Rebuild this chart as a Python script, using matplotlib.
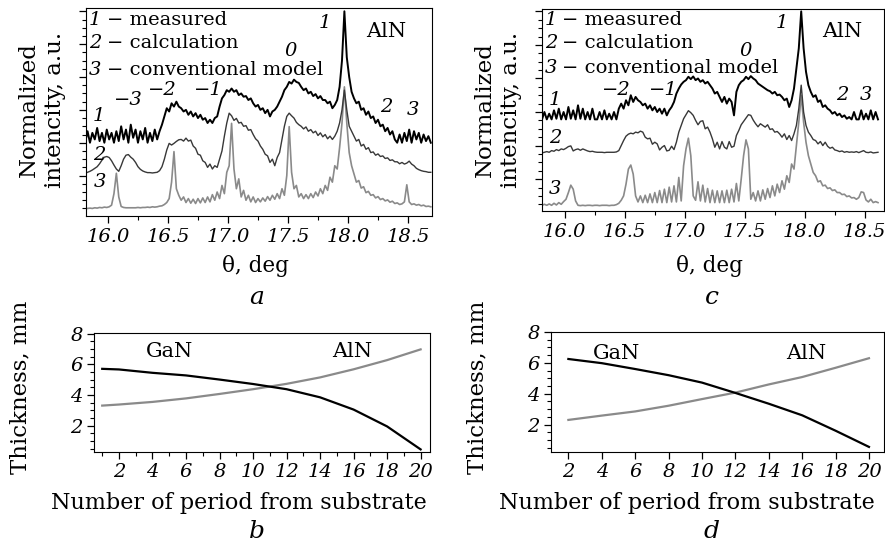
import numpy as np
import matplotlib
matplotlib.use("Agg")
import matplotlib.pyplot as plt
from matplotlib.ticker import MultipleLocator

plt.rcParams['font.family'] = 'DejaVu Serif'
plt.rcParams['font.size'] = 13

# XRD curves, theta grid starts at 15.81 deg with 0.02 deg step
theta_start = 15.81
theta_step = 0.02

# panel a: 1 - measured, 2 - calculation, 3 - conventional model
a_meas = [
    2.0, 2.35, 2.0, 2.3, 2.1, 2.45, 2.05, 2.3, 2.0, 2.4,
    2.1, 2.3, 2.0, 2.35, 2.05, 2.5, 2.1, 2.4, 2.0, 2.55,
    2.15, 2.4, 2.0, 2.35, 2.1, 2.45, 2.0, 2.3, 2.05, 2.4,
    2.1, 2.35, 2.55, 2.8, 3.05, 2.95, 3.2, 3.1, 3.25, 3.1,
    3.05, 2.95, 3.0, 2.85, 2.95, 2.8, 2.9, 2.75, 2.85, 2.7,
    2.75, 2.6, 2.7, 2.6, 2.75, 2.8, 3.1, 3.35, 3.45, 3.6,
    3.55, 3.65, 3.55, 3.6, 3.45, 3.5, 3.4, 3.42, 3.3, 3.35,
    3.2, 3.1, 3.15, 3.0, 3.05, 2.9, 3.0, 2.8, 2.95, 3.0,
    3.1, 3.25, 3.4, 3.6, 3.7, 3.85, 3.8, 3.92, 3.85, 3.82,
    3.7, 3.6, 3.65, 3.5, 3.55, 3.42, 3.48, 3.35, 3.42, 3.3,
    3.3, 3.2, 3.25, 3.05, 3.15, 3.3, 3.7, 4.5, 6.0, 4.6,
    4.0, 3.55, 3.35, 3.2, 3.25, 3.0, 3.05, 2.85, 2.95, 2.75,
    2.8, 2.6, 2.7, 2.5, 2.55, 2.35, 2.45, 2.25, 2.35, 2.1,
    2.0, 2.25, 2.0, 2.3, 2.05, 2.4, 2.0, 2.35, 2.1, 2.3,
    2.0, 2.25, 2.05, 2.2, 2.0]
a_calc = [
    1.07, 1.1, 1.13, 1.17, 1.22, 1.27, 1.36, 1.47, 1.56, 1.58,
    1.55, 1.45, 1.32, 1.2, 1.13, 1.3, 1.5, 1.62, 1.64, 1.56,
    1.5, 1.4, 1.27, 1.19, 1.14, 1.11, 1.09, 1.09, 1.08, 1.09,
    1.1, 1.15, 1.27, 1.5, 1.78, 1.98, 1.93, 1.98, 2.04, 2.09,
    2.1, 2.05, 2.14, 2.05, 2.08, 1.9, 1.83, 1.65, 1.62, 1.45,
    1.4, 1.25, 1.35, 1.2, 1.3, 1.25, 1.5, 1.75, 2.2, 2.6,
    2.9, 2.82, 2.68, 2.74, 2.6, 2.62, 2.5, 2.52, 2.38, 2.4,
    2.25, 2.12, 2.05, 1.9, 1.8, 1.65, 1.6, 1.4, 1.5, 1.3,
    1.55, 1.7, 2.1, 2.5, 2.8, 2.9, 2.82, 2.75, 2.62, 2.55,
    2.5, 2.42, 2.48, 2.35, 2.4, 2.3, 2.35, 2.22, 2.3, 2.18,
    2.25, 2.12, 2.2, 2.1, 2.2, 2.35, 2.6, 3.0, 3.6, 3.0,
    2.5, 2.35, 2.2, 2.05, 2.1, 1.9, 1.95, 1.8, 1.85, 1.7,
    1.72, 1.62, 1.66, 1.58, 1.6, 1.52, 1.54, 1.46, 1.48, 1.42,
    1.42, 1.36, 1.4, 1.35, 1.38, 1.44, 1.35, 1.3, 1.22, 1.18,
    1.15, 1.13, 1.12, 1.1, 1.1]
a_conv = [
    0.0, 0.0, 0.01, 0.0, 0.02, 0.01, 0.03, 0.02, 0.04, 0.03,
    0.05, 0.1, 0.45, 1.07, 0.35, 0.06, 0.03, 0.02, 0.02, 0.02,
    0.02, 0.02, 0.03, 0.02, 0.03, 0.03, 0.04, 0.03, 0.05, 0.04,
    0.05, 0.07, 0.08, 0.12, 0.18, 0.3, 0.8, 1.73, 0.6, 0.4,
    0.25, 0.35, 0.18, 0.3, 0.16, 0.28, 0.15, 0.3, 0.17, 0.32,
    0.18, 0.35, 0.2, 0.42, 0.25, 0.5, 0.3, 0.7, 0.45, 1.1,
    1.3, 2.59, 1.2, 0.6, 0.9, 0.35, 0.55, 0.25, 0.4, 0.2,
    0.35, 0.18, 0.3, 0.2, 0.32, 0.22, 0.36, 0.25, 0.4, 0.28,
    0.45, 0.3, 0.6, 0.4, 1.0, 2.49, 1.1, 0.6, 0.7, 0.35,
    0.45, 0.3, 0.42, 0.3, 0.45, 0.33, 0.5, 0.38, 0.6, 0.45,
    0.7, 0.55, 0.95, 0.8, 1.3, 1.2, 1.85, 2.6, 3.7, 2.6,
    1.7, 1.3, 1.05, 0.8, 0.85, 0.62, 0.66, 0.48, 0.52, 0.4,
    0.42, 0.32, 0.36, 0.27, 0.3, 0.23, 0.26, 0.19, 0.22, 0.15,
    0.17, 0.12, 0.14, 0.2, 0.72, 0.2, 0.12, 0.14, 0.1, 0.12,
    0.08, 0.1, 0.06, 0.07, 0.05]

# panel c
c_meas = [
    2.78, 3.0, 2.78, 2.95, 2.78, 3.05, 2.8, 3.1, 2.78, 3.0,
    2.78, 3.15, 2.8, 3.05, 2.78, 3.2, 2.8, 3.1, 2.78, 3.0,
    2.78, 3.1, 2.78, 2.78, 3.0, 2.78, 3.05, 2.78, 2.95, 2.78,
    3.0, 2.78, 3.1, 3.25, 3.1, 3.35, 3.2, 3.5, 3.3, 3.45,
    3.35, 3.3, 3.2, 3.25, 3.1, 3.2, 3.05, 3.15, 3.0, 3.1,
    2.95, 3.1, 2.9, 3.05, 3.15, 3.3, 3.55, 3.7, 3.82, 3.9,
    3.95, 4.05, 3.98, 4.06, 3.95, 4.0, 3.9, 3.95, 3.85, 3.9,
    3.8, 3.7, 3.55, 3.6, 3.45, 3.3, 3.45, 3.25, 3.4, 3.3,
    2.9, 3.6, 3.8, 3.9, 3.95, 4.05, 3.98, 4.07, 4.0, 3.95,
    3.85, 3.8, 3.75, 3.7, 3.65, 3.62, 3.55, 3.6, 3.5, 3.52,
    3.45, 3.35, 3.4, 3.15, 3.35, 3.7, 4.3, 4.9, 6.0, 4.9,
    4.2, 3.8, 3.6, 3.45, 3.5, 3.3, 3.35, 3.15, 3.2, 3.1,
    3.05, 2.95, 3.0, 2.9, 2.95, 2.85, 2.9, 2.8, 2.85, 2.78,
    3.0, 2.78, 2.78, 3.05, 2.78, 2.95, 2.78, 3.05, 2.78, 3.0,
    2.78]
c_calc = [
    1.78, 1.8, 1.82, 1.8, 1.85, 1.83, 1.88, 1.85, 1.9, 1.88,
    1.92, 1.97, 1.99, 1.84, 1.88, 1.9, 1.86, 1.9, 1.87, 1.84,
    1.82, 1.83, 1.81, 1.8, 1.8, 1.8, 1.79, 1.8, 1.8, 1.8,
    1.8, 1.81, 1.85, 2.0, 2.15, 2.28, 2.34, 2.37, 2.35, 2.4,
    2.38, 2.43, 2.4, 2.25, 2.2, 2.22, 2.04, 2.1, 2.05, 1.87,
    1.95, 2.0, 1.84, 1.86, 1.98, 1.88, 2.1, 2.4, 2.6, 2.8,
    2.92, 3.04, 2.98, 2.9, 2.75, 2.62, 2.72, 2.74, 2.5, 2.55,
    2.4, 2.2, 1.95, 2.1, 1.9, 2.12, 1.95, 1.9, 2.12, 1.95,
    1.98, 2.3, 2.45, 2.62, 2.72, 2.82, 2.92, 2.9, 2.76, 2.65,
    2.56, 2.65, 2.6, 2.55, 2.62, 2.48, 2.5, 2.4, 2.42, 2.35,
    2.25, 2.35, 2.18, 2.3, 2.15, 2.35, 2.6, 3.1, 3.8, 3.0,
    2.6, 2.4, 2.3, 2.18, 2.15, 2.05, 2.12, 2.0, 2.1, 1.98,
    1.92, 1.95, 1.87, 1.85, 1.82, 1.84, 1.8, 1.82, 1.8, 1.81,
    1.8, 1.82, 1.79, 1.82, 1.85, 1.8, 1.79, 1.81, 1.78, 1.79,
    1.8]
c_conv = [
    0.22, 0.25, 0.22, 0.26, 0.22, 0.28, 0.23, 0.3, 0.25, 0.33,
    0.4, 0.6, 0.82, 0.7, 0.35, 0.22, 0.21, 0.22, 0.21, 0.22,
    0.22, 0.21, 0.22, 0.22, 0.21, 0.22, 0.22, 0.22, 0.21, 0.22,
    0.22, 0.24, 0.28, 0.37, 0.5, 0.85, 1.3, 1.42, 1.15, 0.5,
    0.32, 0.5, 0.3, 0.52, 0.3, 0.56, 0.3, 0.6, 0.3, 0.66,
    0.3, 0.7, 0.3, 0.76, 0.32, 0.8, 0.32, 1.05, 0.35, 1.4,
    1.9, 2.22, 1.7, 0.5, 0.37, 0.92, 0.35, 0.82, 0.32, 0.72,
    0.3, 0.67, 0.3, 0.65, 0.3, 0.65, 0.3, 0.67, 0.3, 0.7,
    0.32, 0.87, 0.35, 1.0, 1.7, 2.17, 1.9, 0.4, 0.6, 0.35,
    0.65, 0.35, 0.68, 0.4, 0.72, 0.45, 0.8, 0.5, 0.85, 0.6,
    0.95, 0.7, 1.1, 0.9, 1.45, 1.3, 2.0, 2.7, 3.5, 2.7,
    2.1, 1.7, 1.45, 1.2, 1.1, 0.92, 0.95, 0.8, 0.82, 0.72,
    0.74, 0.66, 0.68, 0.6, 0.6, 0.54, 0.55, 0.48, 0.5, 0.44,
    0.45, 0.4, 0.45, 0.62, 0.6, 0.38, 0.32, 0.4, 0.3, 0.33,
    0.3]

# layer thickness vs period number
b_period = [1, 2, 4, 6, 8, 10, 12, 14, 16, 18, 20]
b_gan = [5.71, 5.67, 5.45, 5.28, 5.01, 4.72, 4.38, 3.85, 3.05, 1.95, 0.45]
b_aln = [3.31, 3.38, 3.55, 3.78, 4.07, 4.38, 4.73, 5.15, 5.68, 6.28, 6.98]

d_period = [2, 4, 6, 8, 10, 12, 14, 16, 18, 20]
d_gan = [6.25, 5.98, 5.6, 5.2, 4.72, 4.05, 3.35, 2.6, 1.6, 0.55]
d_aln = [2.3, 2.58, 2.85, 3.22, 3.65, 4.07, 4.6, 5.08, 5.68, 6.3]

theta_ticks = [16.0, 16.5, 17.0, 17.5, 18.0, 18.5]
period_ticks = [2, 4, 6, 8, 10, 12, 14, 16, 18, 20]
thick_ticks = [2, 4, 6, 8]

W, H = 885, 550
fig = plt.figure(figsize=(W / 100, H / 100), dpi=100)


def box(l, t, r, b):
    return [l / W, 1 - b / H, (r - l) / W, (b - t) / H]


def ftext(x, y, s, **kw):
    fig.text(x / W, 1 - y / H, s, ha='center', va='center', **kw)


def theta(vals):
    return theta_start + theta_step * np.arange(len(vals))


def spectrum(ax, meas, calc, conv, xlim, ylim):
    ax.plot(theta(conv), conv, color='#8a8a8a', lw=1.2)
    ax.plot(theta(calc), calc, color='#383838', lw=1.0)
    ax.plot(theta(meas), meas, color='black', lw=1.4)
    ax.set_xlim(*xlim)
    ax.set_ylim(*ylim)
    ax.set_xticks(theta_ticks, ['%.1f' % t for t in theta_ticks], fontstyle='italic', fontsize=14)
    ax.xaxis.set_minor_locator(MultipleLocator(0.25))
    ax.set_yticks([1, 2, 3, 4, 5, 6])
    ax.set_yticklabels([])
    ax.yaxis.set_minor_locator(MultipleLocator(0.25))
    ax.tick_params(which='major', direction='out', length=5, width=0.9)
    ax.tick_params(which='minor', direction='out', length=3, width=0.8)


def legend_text(ax, x0, x1, ys):
    items = ['measured', 'calculation', 'conventional model']
    for i, (y, s) in enumerate(zip(ys, items)):
        ax.text(x0, y, str(i + 1), fontstyle='italic', ha='left', va='center', fontsize=14)
        ax.text(x1, y, '\u2212 ' + s, ha='left', va='center', fontsize=14)


def lab(ax, x, y, s):
    ax.text(x, y, s, fontstyle='italic', ha='center', va='center', fontsize=14)


# ---- panel a
ax = fig.add_axes(box(86, 8, 432, 216))
spectrum(ax, a_meas, a_calc, a_conv, (15.817, 18.70), (-0.23, 6.10))
legend_text(ax, 15.84, 15.99, [5.74, 5.04, 4.22])
for x, y, s in [(15.92, 2.80, '1'), (15.93, 1.63, '2'), (15.93, 0.79, '3'),
                (16.17, 3.30, '\u22123'), (16.45, 3.61, '\u22122'), (16.84, 3.61, '\u22121'),
                (17.52, 4.78, '0'), (17.81, 5.64, '1'), (18.32, 3.10, '2'), (18.54, 3.0, '3')]:
    lab(ax, x, y, s)
ax.text(18.32, 5.39, 'AlN', ha='center', va='center', fontsize=15)

# ---- panel c
ax = fig.add_axes(box(542, 9, 884, 211))
spectrum(ax, c_meas, c_calc, c_conv, (15.81, 18.66), (0.05, 6.07))
legend_text(ax, 15.833, 15.975, [5.75, 5.06, 4.31])
for x, y, s in [(15.92, 3.36, '1'), (15.92, 2.22, '2'), (15.92, 0.72, '3'),
                (16.43, 3.66, '\u22122'), (16.82, 3.66, '\u22121'),
                (17.51, 4.81, '0'), (17.81, 5.65, '1'), (18.31, 3.51, '2'), (18.51, 3.51, '3')]:
    lab(ax, x, y, s)
ax.text(18.31, 5.40, 'AlN', ha='center', va='center', fontsize=15)


def thickness(ax, period, gan, aln, xlim, ylim, minor_x):
    ax.plot(period, aln, color='#8a8a8a', lw=1.6)
    ax.plot(period, gan, color='black', lw=1.6)
    ax.set_xlim(*xlim)
    ax.set_ylim(*ylim)
    ax.set_xticks(period_ticks, [str(p) for p in period_ticks], fontstyle='italic', fontsize=14)
    ax.set_yticks(thick_ticks, [str(t) for t in thick_ticks], fontstyle='italic', fontsize=14)
    if minor_x:
        ax.xaxis.set_minor_locator(MultipleLocator(1))
    ax.yaxis.set_minor_locator(MultipleLocator(0.5))
    ax.tick_params(which='major', direction='out', length=5, width=0.9, pad=3)
    ax.tick_params(which='minor', direction='out', length=3, width=0.8)


# ---- panel b
ax = fig.add_axes(box(94, 333, 430, 452))
thickness(ax, b_period, b_gan, b_aln, (0.51, 20.56), (0.28, 8.05), True)
ax.text(5.03, 6.85, 'GaN', ha='center', va='center', fontsize=15)
ax.text(15.9, 6.85, 'AlN', ha='center', va='center', fontsize=15)

# ---- panel d
ax = fig.add_axes(box(551, 332, 884, 452))
thickness(ax, d_period, d_gan, d_aln, (0.96, 20.9), (0.22, 8.0), False)
ax.text(4.9, 6.62, 'GaN', ha='center', va='center', fontsize=15)
ax.text(16.27, 6.62, 'AlN', ha='center', va='center', fontsize=15)

# axis titles and panel letters
ftext(42, 110, 'Normalized\nintencity, a.u.', rotation=90, fontsize=16.5, linespacing=1.2)
ftext(498, 110, 'Normalized\nintencity, a.u.', rotation=90, fontsize=16.5, linespacing=1.2)
ftext(256, 266, '\u03b8, deg', fontsize=15.5)
ftext(710, 266, '\u03b8, deg', fontsize=15.5)
ftext(20, 387, 'Thickness, mm', rotation=90, fontsize=16.5)
ftext(477, 387, 'Thickness, mm', rotation=90, fontsize=16.5)
ftext(239, 503, 'Number of period from substrate', fontsize=16)
ftext(687, 503, 'Number of period from substrate', fontsize=16)
ftext(257, 297, 'a', fontstyle='italic', fontsize=18)
ftext(712, 297, 'c', fontstyle='italic', fontsize=18)
ftext(257, 531, 'b', fontstyle='italic', fontsize=18)
ftext(712, 531, 'd', fontstyle='italic', fontsize=18)

fig.savefig('out.png', dpi=100)
plt.close(fig)
